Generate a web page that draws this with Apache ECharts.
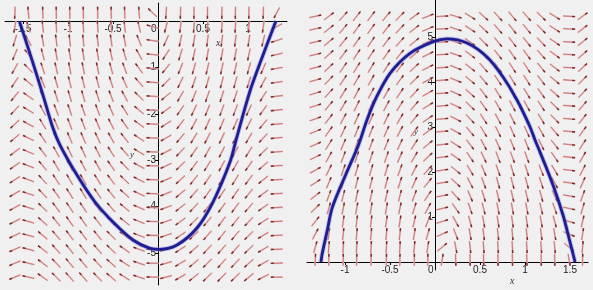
<!DOCTYPE html>
<html><head><meta charset="utf-8">
<script src="https://cdn.jsdelivr.net/npm/echarts@6/dist/echarts.min.js"></script>
<style>html,body{margin:0;padding:0;background:#f0f0f0;}#c{width:593px;height:290px;}</style>
</head><body><div id="c"></div><script>
// ---- tick labels ----
const leftXTicks = [-1.5, -1, -0.5, 0, 0.5, 1];
const leftYTicks = [-5, -4, -3, -2, -1];
const rightXTicks = [-1, -0.5, 0, 0.5, 1, 1.5];
const rightYTicks = [1, 2, 3, 4, 5];

// ---- solution curves ----
const leftCurveX = [-1.54, -1.389, -1.278, -1.167, -1.089, -0.9, -0.7, -0.5, -0.278, -0.089, 0.022, 0.211, 0.433, 0.611, 0.8, 0.867, 0.944, 1.033, 1.167, 1.31];
const leftCurveY = [0.0, -0.905, -1.595, -2.306, -2.672, -3.319, -3.901, -4.332, -4.72, -4.9, -4.92, -4.828, -4.461, -3.901, -3.039, -2.565, -2.026, -1.444, -0.733, 0.0];
const rightCurveX = [-1.267, -1.256, -1.195, -1.14, -0.99, -0.85, -0.756, -0.648, -0.5, -0.278, -0.019, 0.133, 0.356, 0.578, 0.756, 0.911, 1.056, 1.111, 1.167, 1.311, 1.422, 1.5, 1.556];
const rightCurveY = [0.0, 0.156, 0.72, 1.22, 1.95, 2.6, 3.156, 3.673, 4.193, 4.637, 4.896, 4.96, 4.867, 4.556, 4.111, 3.6, 3.0, 2.711, 2.444, 1.711, 1.044, 0.444, 0.0];

// ---- direction field grids (angles on screen, degrees) ----
const leftCols = [-1.59,-1.44,-1.28,-1.13,-0.98,-0.83,-0.67,-0.52,-0.37,-0.21,-0.06,0.09,0.25,0.40,0.55,0.71,0.86,1.01,1.17,1.32];
const leftRows = [0.18,-0.12,-0.42,-0.72,-1.02,-1.32,-1.62,-1.92,-2.22,-2.52,-2.82,-3.12,-3.42,-3.72,-4.02,-4.32,-4.62,-4.92,-5.22,-5.52];
const leftAngles = [
 [87,-85,-88,-89,-89,-89,-89,-89,-88,-86,-44,86,88,89,89,89,89,89,88,62],
 [80,-73,-84,-86,-86,-86,-86,-85,-83,-77,-16,75,83,85,86,86,86,85,82,29],
 [73,-62,-80,-83,-84,-84,-83,-82,-79,-69,-9,66,78,81,83,83,83,82,77,18],
 [67,-53,-76,-80,-81,-81,-80,-78,-74,-61,-6,57,73,78,80,80,80,78,71,13],
 [61,-46,-72,-77,-79,-79,-78,-75,-70,-54,-5,51,68,74,77,78,77,75,66,10],
 [56,-40,-68,-74,-76,-76,-75,-72,-66,-49,-4,45,64,71,74,75,75,72,62,8],
 [51,-35,-65,-72,-74,-74,-72,-69,-62,-44,-3,40,60,68,71,72,72,69,58,7],
 [47,-31,-62,-69,-71,-71,-70,-66,-58,-40,-3,36,56,65,68,70,69,66,54,6],
 [43,-28,-59,-66,-69,-69,-67,-63,-55,-36,-3,33,53,62,66,67,67,63,50,5],
 [40,-26,-56,-64,-67,-67,-65,-61,-52,-33,-2,30,50,59,63,65,64,60,47,5],
 [37,-23,-53,-61,-64,-65,-63,-58,-49,-31,-2,27,47,56,61,63,62,58,44,4],
 [35,-21,-50,-59,-62,-62,-60,-55,-46,-28,-2,25,44,54,58,61,60,55,41,4],
 [32,-20,-48,-57,-60,-61,-58,-53,-44,-27,-2,23,42,52,56,58,58,53,39,3],
 [30,-18,-46,-55,-58,-59,-56,-51,-42,-25,-2,22,40,49,54,56,56,51,37,3],
 [29,-17,-44,-53,-56,-57,-54,-49,-40,-23,-2,20,38,47,52,54,54,49,35,3],
 [27,-16,-42,-51,-55,-55,-52,-47,-38,-22,-1,19,36,45,50,53,52,47,33,3],
 [26,-15,-40,-49,-53,-53,-51,-45,-36,-21,-1,18,34,43,49,51,50,45,31,3],
 [24,-15,-38,-48,-51,-52,-49,-44,-35,-20,-1,17,33,42,47,49,49,44,30,2],
 [23,-14,-37,-46,-50,-50,-47,-42,-33,-19,-1,16,31,40,45,48,47,42,29,2],
 [22,-13,-35,-45,-48,-49,-46,-40,-32,-18,-1,15,30,39,44,46,45,40,27,0]
];
const rightCols = [-1.33,-1.18,-1.02,-0.87,-0.71,-0.54,-0.39,-0.23,-0.08,0.08,0.23,0.39,0.54,0.70,0.86,1.02,1.18,1.33,1.49,1.64];
const rightRows = [5.46,5.18,4.89,4.61,4.32,4.04,3.75,3.47,3.18,2.90,2.61,2.33,2.04,1.76,1.47,1.19,0.90,0.62,0.33,0.05];
const rightAngles = [
 [12,37,48,52,53,50,45,36,22,3,-17,-32,-42,-48,-50,-49,-44,-32,-3,36],
 [12,39,50,54,54,52,47,38,23,3,-18,-33,-43,-49,-52,-51,-46,-33,-3,38],
 [13,40,51,55,56,53,48,39,24,3,-18,-35,-45,-51,-53,-52,-47,-34,-3,39],
 [14,42,53,57,57,55,50,41,26,3,-19,-37,-47,-52,-55,-54,-49,-36,-3,41],
 [15,44,55,58,59,57,52,43,27,4,-21,-38,-49,-54,-57,-56,-51,-38,-3,43],
 [16,46,56,60,61,59,54,44,29,4,-22,-40,-50,-56,-58,-58,-53,-40,-4,45],
 [17,48,58,62,62,60,56,47,30,4,-24,-42,-53,-58,-60,-59,-55,-42,-4,47],
 [18,50,60,64,64,62,58,49,32,5,-25,-44,-55,-60,-62,-61,-57,-44,-4,49],
 [20,52,62,66,66,64,60,51,35,5,-27,-47,-57,-62,-64,-63,-59,-46,-5,52],
 [22,55,65,68,68,66,62,54,37,5,-29,-50,-59,-64,-66,-66,-61,-49,-5,54],
 [24,58,67,70,70,68,65,57,40,6,-32,-53,-62,-66,-68,-68,-64,-52,-6,57],
 [26,61,69,72,72,71,67,60,43,7,-35,-56,-65,-69,-70,-70,-66,-55,-6,60],
 [29,64,71,74,74,73,70,63,47,8,-39,-59,-67,-71,-73,-72,-69,-59,-7,63],
 [33,67,74,76,76,75,72,66,51,9,-43,-63,-70,-74,-75,-75,-72,-62,-9,66],
 [38,70,76,78,78,77,75,70,56,11,-48,-67,-73,-76,-77,-77,-75,-66,-10,70],
 [44,74,79,80,81,80,78,73,62,13,-54,-71,-76,-79,-80,-79,-77,-71,-12,74],
 [52,78,82,83,83,82,81,77,68,17,-61,-75,-80,-81,-82,-82,-80,-75,-16,77],
 [62,82,84,85,85,85,84,81,74,24,-69,-80,-83,-84,-85,-84,-83,-80,-23,81],
 [74,85,87,87,87,87,87,85,81,40,-79,-84,-86,-87,-87,-87,-86,-84,-39,85],
 [88,89,89,89,89,89,89,89,89,81,-88,-89,-89,-89,-89,-89,-89,-89,-80,89]
];

function fieldData(cols, rows, angles) {
  const out = [];
  rows.forEach((y, j) => cols.forEach((x, i) => out.push([x, y, angles[j][i]])));
  return out;
}
function pairs(xs, ys) { return xs.map((x, i) => [x, ys[i]]); }

function arrowRender(dir) {
  return function (params, api) {
    const p = api.coord([api.value(0), api.value(1)]);
    const a = api.value(2) * Math.PI / 180;
    const L = 6;
    const ux = Math.cos(a) * dir, uy = -Math.sin(a) * dir;
    const t = [p[0] - ux * L, p[1] - uy * L];
    const h = [p[0] + ux * L, p[1] + uy * L];
    const hb = [p[0] + ux * (L - 3), p[1] + uy * (L - 3)];
    return { type: 'group', children: [
      { type: 'line', shape: { x1: t[0], y1: t[1], x2: h[0], y2: h[1] }, style: { stroke: '#ebb8b8', lineWidth: 1.8 } },
      { type: 'line', shape: { x1: t[0], y1: t[1], x2: h[0], y2: h[1] }, style: { stroke: '#b86060', lineWidth: 0.7 } },
      { type: 'line', shape: { x1: hb[0], y1: hb[1], x2: h[0], y2: h[1] }, style: { stroke: '#7a2a2a', lineWidth: 1.4 } }
    ] };
  };
}

const font = 'Liberation Sans';
function xFmt(v) { return v === 0 ? '0   ' : String(v); }

function xAx(grid, min, max, ticks, pos, off, inside) {
  return { gridIndex: grid, type: 'value', min: min, max: max, position: pos, offset: off,
    axisLine: { onZero: false, lineStyle: { color: '#000', width: 1 } },
    axisTick: { customValues: ticks, length: 3, inside: inside, lineStyle: { color: '#000' } },
    axisLabel: { customValues: ticks, inside: inside, formatter: xFmt, fontSize: 10, color: '#222', margin: 3, fontFamily: font },
    splitLine: { show: false } };
}
function yAx(grid, min, max, ticks, off) {
  return { gridIndex: grid, type: 'value', min: min, max: max, position: 'left', offset: off,
    axisLine: { onZero: false, lineStyle: { color: '#000', width: 1 } },
    axisTick: { customValues: ticks, length: 3, lineStyle: { color: '#000' } },
    axisLabel: { customValues: ticks, fontSize: 10, color: '#222', margin: 2, fontFamily: font },
    splitLine: { show: false } };
}
function curve(ax, xs, ys, color, width, z) {
  return { type: 'line', xAxisIndex: ax, yAxisIndex: ax, data: pairs(xs, ys), smooth: 0.3,
    showSymbol: false, silent: true, lineStyle: { color: color, width: width }, z: z };
}

const chart = echarts.init(document.getElementById('c'), null, { renderer: 'canvas' });
chart.setOption({
  backgroundColor: '#f0f0f0',
  animation: false,
  grid: [
    { left: 5, top: 3, width: 282, height: 282 },
    { left: 307, top: 0, width: 281, height: 270 }
  ],
  xAxis: [
    xAx(0, -1.7, 1.4333, leftXTicks, 'top', -18, true),
    xAx(1, -1.4222, 1.7, rightXTicks, 'bottom', -8, false)
  ],
  yAxis: [
    yAx(0, -5.69, 0.39, leftYTicks, -153),
    yAx(1, -0.178, 5.822, rightYTicks, -128)
  ],
  series: [
    { type: 'custom', xAxisIndex: 0, yAxisIndex: 0, renderItem: arrowRender(-1), data: fieldData(leftCols, leftRows, leftAngles), z: 2, clip: false },
    { type: 'custom', xAxisIndex: 1, yAxisIndex: 1, renderItem: arrowRender(1), data: fieldData(rightCols, rightRows, rightAngles), z: 2, clip: false },
    curve(0, leftCurveX, leftCurveY, 'rgba(130,130,225,0.45)', 4.6, 4),
    curve(1, rightCurveX, rightCurveY, 'rgba(130,130,225,0.45)', 4.6, 4),
    curve(0, leftCurveX, leftCurveY, '#1e1e92', 2.8, 5),
    curve(1, rightCurveX, rightCurveY, '#1e1e92', 2.8, 5)
  ],
  graphic: [
    { type: 'text', left: 216, top: 38, style: { text: 'x', font: 'italic 10px "Liberation Serif"', fill: '#333' } },
    { type: 'text', left: 130, top: 150, style: { text: 'y', font: 'italic 9px "Liberation Serif"', fill: '#333' } },
    { type: 'text', left: 414, top: 127, style: { text: 'y', font: 'italic 9px "Liberation Serif"', fill: '#333' } },
    { type: 'text', left: 510, top: 276, style: { text: 'x', font: 'italic 10px "Liberation Serif"', fill: '#333' } }
  ]
});
</script></body></html>
